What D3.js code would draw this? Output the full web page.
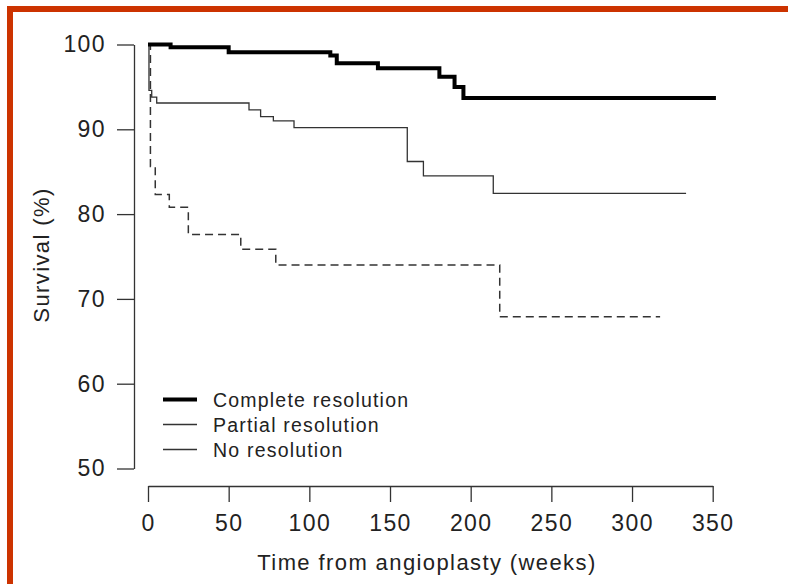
<!DOCTYPE html>
<html>
<head>
<meta charset="utf-8">
<script src="https://cdn.jsdelivr.net/npm/d3@7"></script>
<style>
    body { margin: 0; background: #fff; }
    text { font-family: "Liberation Sans", Arial, sans-serif; fill: #222; }
</style>
</head>
<body>
<div id="chart"></div>
<script>
// survival curves (weeks, survival %)
const completeWeeks = [0, 14, 50, 113, 117, 142.5, 180.6, 190, 195.5, 352];
const completeSurv  = [100, 99.67, 99.1, 98.7, 97.8, 97.2, 96.2, 95.0, 93.7, 93.7];

const partialWeeks = [0, 0.6, 2.3, 5.4, 62.6, 69.8, 77.7, 90.5, 160.7, 170.7, 214, 333.5];
const partialSurv  = [100, 94.6, 93.8, 93.1, 92.3, 91.5, 91.0, 90.2, 86.2, 84.5, 82.45, 82.45];

const noneWeeks = [0, 1.5, 4.5, 13.2, 25, 57.5, 79.2, 218, 317.4];
const noneSurv  = [100, 85.6, 82.3, 80.8, 77.6, 75.85, 74.0, 67.9, 67.9];

const xTicks = [0, 50, 100, 150, 200, 250, 300, 350];
const yTicks = [50, 60, 70, 80, 90, 100];
const legendLabels = ['Complete resolution', 'Partial resolution', 'No resolution'];

const width = 788, height = 584;
const borderColor = '#cc3300';

const svg = d3.select('#chart')
    .append('svg')
    .attr('width', width)
    .attr('height', height);

// orange frame on top and left
svg.append('rect').attr('x', 7).attr('y', 6).attr('width', width - 7).attr('height', 6).attr('fill', borderColor);
svg.append('rect').attr('x', 7).attr('y', 6).attr('width', 6).attr('height', height - 6).attr('fill', borderColor);

const x = d3.scaleLinear().domain([0, 350]).range([148, 712.7]);
const y = d3.scaleLinear().domain([50, 100]).range([468.5, 44.5]);

// y axis
const yAxis = svg.append('g')
    .attr('transform', 'translate(134,0)')
    .call(d3.axisLeft(y).tickValues(yTicks).tickSize(17).tickSizeOuter(0).tickPadding(11));
yAxis.selectAll('path, line').attr('stroke', '#333').attr('stroke-width', 1.3);
yAxis.selectAll('text')
    .style('font-size', '23px')
    .style('letter-spacing', '1.4px')
    .attr('fill', '#222');

// x axis
const xAxis = svg.append('g')
    .attr('transform', 'translate(0,486)')
    .call(d3.axisBottom(x).tickValues(xTicks).tickSize(16).tickSizeOuter(0).tickPadding(13));
xAxis.selectAll('path, line').attr('stroke', '#333').attr('stroke-width', 1.3);
xAxis.selectAll('text')
    .style('font-size', '23px')
    .style('letter-spacing', '1.4px')
    .attr('fill', '#222');

svg.append('text')
    .attr('x', 427)
    .attr('y', 570)
    .attr('text-anchor', 'middle')
    .style('font-size', '22px')
    .style('letter-spacing', '1.4px')
    .text('Time from angioplasty (weeks)');

svg.append('text')
    .attr('transform', 'translate(49,255) rotate(-90)')
    .attr('text-anchor', 'middle')
    .style('font-size', '22px')
    .style('letter-spacing', '1.4px')
    .text('Survival (%)');

const line = d3.line()
    .x(d => x(d[0]))
    .y(d => y(d[1]))
    .curve(d3.curveStepAfter);

const series = [
    {weeks: noneWeeks, surv: noneSurv, width: 1.5, color: '#333', dash: '8,5'},
    {weeks: partialWeeks, surv: partialSurv, width: 1.3, color: '#333', dash: null},
    {weeks: completeWeeks, surv: completeSurv, width: 4, color: '#000', dash: null}
];

series.forEach(function(s) {
    svg.append('path')
        .datum(d3.zip(s.weeks, s.surv))
        .attr('d', line)
        .attr('fill', 'none')
        .attr('stroke', s.color)
        .attr('stroke-width', s.width)
        .attr('stroke-dasharray', s.dash);
});

// legend (all samples drawn solid, as in the original)
const legendWidths = [4, 1.3, 1.3];
legendLabels.forEach(function(label, i) {
    const ly = 399.5 + i * 25;
    svg.append('line')
        .attr('x1', 163).attr('x2', 197)
        .attr('y1', ly).attr('y2', ly)
        .attr('stroke', i == 0 ? '#000' : '#333')
        .attr('stroke-width', legendWidths[i]);
    svg.append('text')
        .attr('x', 213)
        .attr('y', ly + 7)
        .style('font-size', '19.5px')
        .style('letter-spacing', '1.2px')
        .text(label);
});
</script>
</body>
</html>
